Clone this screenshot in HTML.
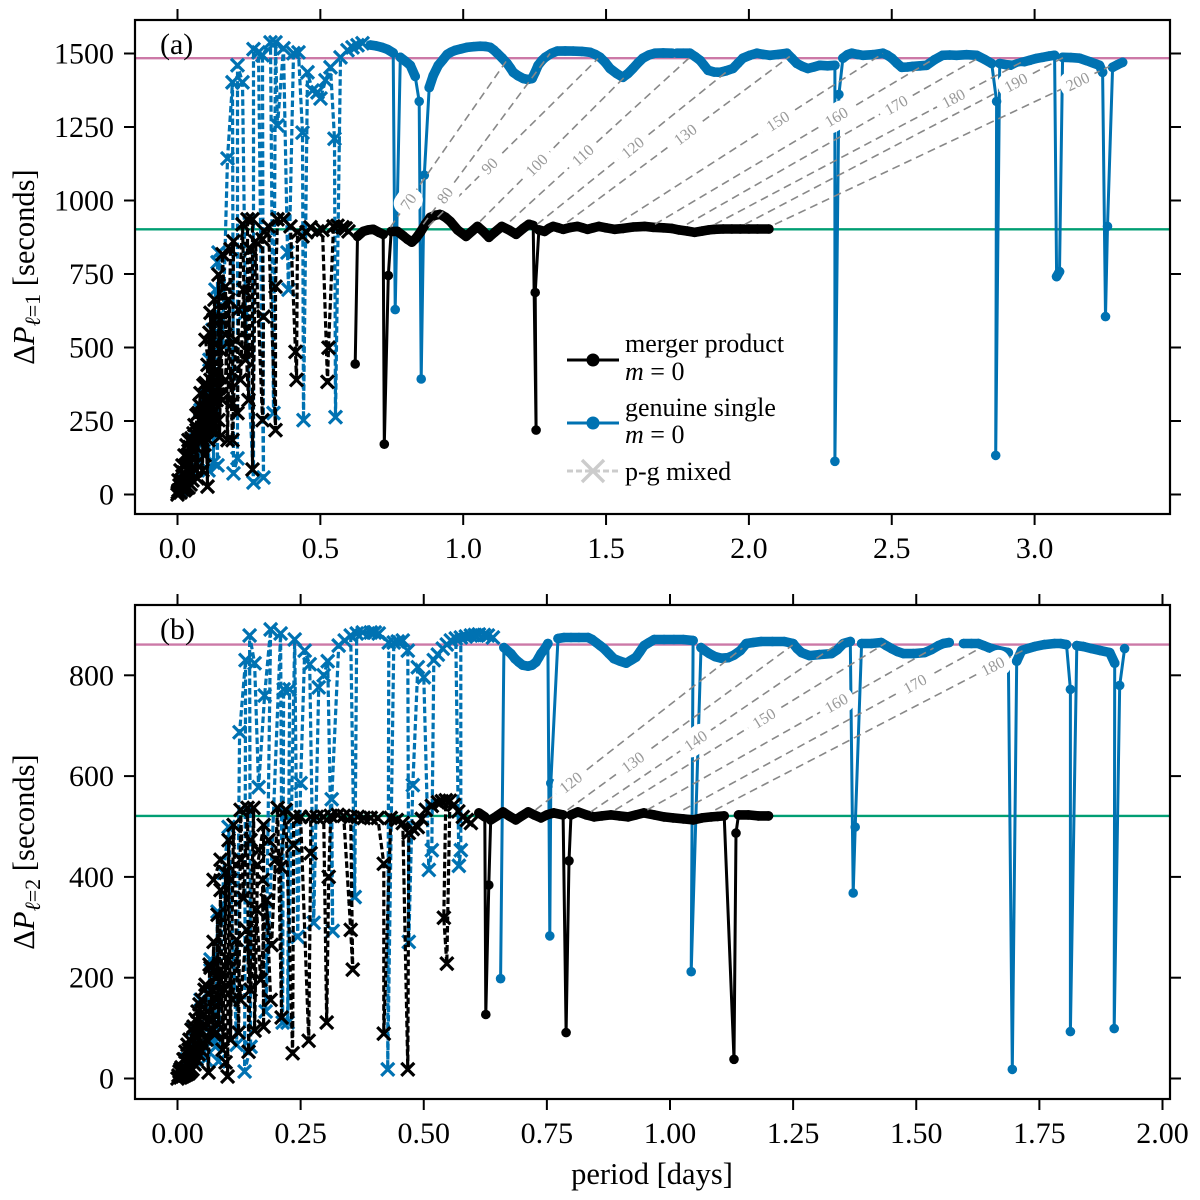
<!DOCTYPE html>
<html lang="en">
<head>
<meta charset="utf-8">
<title>Period spacing vs period</title>
<style>
html,body{margin:0;padding:0;background:#fff;}
svg{display:block;}
text{font-family:"Liberation Serif","DejaVu Serif",serif;fill:#000;}
</style>
</head>
<body>
<svg id="chart" xmlns="http://www.w3.org/2000/svg" width="1200" height="1200" viewBox="0 0 1200 1200">
<rect x="0" y="0" width="1200" height="1200" fill="#fff"/>
<g id="panel-a"></g>
<g id="panel-b"></g>

<text x="160" y="54" font-size="30">(a)</text>
<text x="160" y="639" font-size="30">(b)</text>

<text transform="translate(34,267) rotate(-90)" text-anchor="middle" font-size="30.5">Δ<tspan font-style="italic">P</tspan><tspan font-size="22" dy="6"><tspan font-style="italic">ℓ</tspan>=1</tspan><tspan dy="-6"> [seconds]</tspan></text>
<text transform="translate(34,852) rotate(-90)" text-anchor="middle" font-size="30.5">Δ<tspan font-style="italic">P</tspan><tspan font-size="22" dy="6"><tspan font-style="italic">ℓ</tspan>=2</tspan><tspan dy="-6"> [seconds]</tspan></text>
<text x="652" y="1184" text-anchor="middle" font-size="30.5">period [days]</text>

<g id="legend">
  <g>
    <line x1="567" x2="619" y1="360" y2="360" stroke="#000" stroke-width="3"/>
    <circle cx="593" cy="360" r="6.5" fill="#000"/>
    <text x="625" y="352" font-size="26">merger product</text>
    <text x="625" y="380" font-size="26"><tspan font-style="italic">m</tspan> = 0</text>
  </g>
  <g>
    <line x1="567" x2="619" y1="423" y2="423" stroke="#0072B2" stroke-width="3"/>
    <circle cx="593" cy="423" r="6.5" fill="#0072B2"/>
    <text x="625" y="416" font-size="26">genuine single</text>
    <text x="625" y="443" font-size="26"><tspan font-style="italic">m</tspan> = 0</text>
  </g>
  <g>
    <line x1="567" x2="619" y1="471" y2="471" stroke="#ccc" stroke-width="3" stroke-dasharray="6 3"/>
    <path d="M582 460L604 482M582 482L604 460" stroke="#ccc" stroke-width="3.4" fill="none"/>
    <text x="625" y="480" font-size="26">p-g mixed</text>
  </g>
</g>
</svg>

<script>
// ---------- Panel (a): l = 1 ----------
const aXTicks = [0, 0.5, 1, 1.5, 2, 2.5, 3];
const aXTickLabels = ["0.0", "0.5", "1.0", "1.5", "2.0", "2.5", "3.0"];
const aYTicks = [0, 250, 500, 750, 1000, 1250, 1500];
const aYTickLabels = ["0", "250", "500", "750", "1000", "1250", "1500"];
const aAsymptoteSingle = 1484;
const aAsymptoteMerger = 902;

const aBlueMixedP = [.0105,.028,.0455,.063,.0735,.0805,.091,.1015,.1085,.112,.1225,.126,.133,.14,.14,.1435,.1575,.175,.1925,.196,.21,.21,.2275,.238,.266,.266,.2835,.301,.2975,.3255,.336,.343,.35,.371,.385,.3885,.406,.4235,.4375,.441,.455,.4725,.49,.5005,.518,.5355,.5495,.553,.5705,.595,.6125,.63,.6475];
const aBlueMixedV = [14,48,82,185,116,287,185,338,82,458,560,109,697,99,790,823,509,1143,1402,72,123,1460,1402,618,41,1515,1504,58,1494,1538,277,1538,1255,1518,823,697,1501,1504,1231,253,1436,1374,1368,1347,1409,1453,1210,263,1487,1511,1521,1528,1535];

const aBlueSolidP = [.675,.695,.715,.735,.755,.762,.78,.797,.815,.832,.846,.853,.864,.881,.895,.913,.93,.944,.958,.972,.993,1.014,1.036,1.059,1.077,1.094,1.107,1.119,1.137,1.154,1.165,1.175,1.192,1.21,1.225,1.241,1.252,1.262,1.275,1.287,1.308,1.329,1.357,1.385,1.415,1.444,1.462,1.479,1.497,1.514,1.537,1.559,1.577,1.594,1.612,1.629,1.65,1.671,1.7,1.731,null,1.748,1.77,1.794,1.812,1.829,1.843,1.857,1.878,1.899,1.92,1.944,1.962,1.979,2.003,2.028,2.05,2.073,2.103,2.133,2.15,2.168,2.187,2.206,2.227,2.248,2.275,2.301,2.301,2.315,2.329,2.345,2.36,2.38,2.399,2.434,2.469,2.485,2.5,2.518,2.535,2.555,2.573,2.6,2.622,2.65,2.678,2.703,2.727,2.762,2.797,2.825,2.85,2.867,2.864,2.878,2.9,2.923,2.953,2.983,3.005,3.028,3.05,3.07,3.077,3.087,3.098,3.127,3.157,3.192,3.227,3.238,3.248,3.255,3.273,3.29,3.308];
const aBlueSolidV = [1529,1526,1521,1514,1502,629,1487,1474,1460,1422,1337,393,1086,1384,1425,1460,1480,1497,1505,1511,1516,1521,1523,1525,1524,1521,1512,1501,1484,1466,1451,1436,1424,1415,1412,1415,1437,1460,1476,1487,1500,1508,1509,1508,1507,1504,1497,1487,1470,1449,1432,1419,1432,1449,1468,1484,1495,1501,1502,1501,null,1501,1501,1501,1489,1477,1460,1443,1437,1436,1441,1449,1467,1484,1494,1501,1497,1494,1497,1501,1484,1466,1456,1449,1454,1460,1458,1460,113,1361,1484,1496,1501,1497,1494,1496,1501,1494,1484,1467,1453,1454,1456,1458,1460,1479,1494,1495,1494,1496,1494,1480,1466,1337,133,1466,1462,1460,1469,1477,1483,1487,1491,1494,741,758,1487,1486,1484,1472,1460,1436,605,912,1453,1462,1470];

const aBlackMixedP = [.001,.0035,.0105,.0175,.0245,.0315,.0385,.0455,.0525,.0595,.0665,.0735,.0805,.0875,.0945,.1015,.1085,.1155,.1225,.1295,.1365,.1435,.1505,null,.098,.1155,.126,.133,.1505,.1575,.168,.1785,.1925,.203,.2205,.231,.2485,.2555,null,0,.0035,.007,.0105,.014,.0175,.021,.0245,.028,.0315,.035,.0385,.042,.0455,.049,.0525,.056,.0595,.063,.0665,.07,.0735,.077,.0805,.0875,.091,.0945,.098,.105,.105,.1085,.112,.1155,.1155,.1225,.1295,.1365,.1435,.1435,.147,.1575,.168,.168,.175,.1855,.196,.1925,.21,.2135,.2275,.238,.245,.245,.2625,.2625,.273,.2975,.301,.2975,.3045,.3185,.343,.343,.35,.371,.3955,.413,.4165,.42,.4375,.4515,.4655,.49,.5075,.525,.5285,.546,.56,.5775,.5885,.5985];
const aBlackMixedV = [7,48,82,99,133,167,185,133,185,167,219,185,253,185,253,219,321,253,321,219,424,253,492,null,526,390,595,219,595,321,390,663,185,526,390,697,321,834,null,0,14,31,7,48,17,75,14,99,21,133,24,161,34,191,48,208,236,82,270,55,277,304,345,82,372,133,379,27,441,185,550,219,618,253,663,321,362,748,195,817,543,707,185,834,861,311,277,629,919,458,485,936,936,85,861,253,605,868,895,912,219,707,936,936,912,485,390,892,878,892,909,895,900,383,499,912,914,909,905,895];

const aBlackSolidP = [.622,.63,.65,.668,.685,.705,.72,.724,.738,.748,.77,.79,.805,.82,.835,.85,.868,.885,.903,.92,.938,.955,.98,1.01,1.03,1.05,1.07,1.09,1.11,1.135,1.16,1.185,1.21,1.23,1.245,1.255,1.252,1.265,1.285,1.3,1.315,1.333,1.35,1.375,1.4,1.418,1.435,1.455,1.475,1.5,1.53,1.56,1.595,1.635,1.665,1.7,1.73,1.755,1.785,1.81,1.835,1.86,1.88,1.91,1.94,1.97,2,2.03,2.07];
const aBlackSolidV = [444,878,895,900,902,892,885,171,745,895,895,880,868,858,872,892,920,943,950,953,943,929,900,878,895,912,895,875,892,912,900,885,905,919,915,219,687,900,895,905,912,907,902,908,912,907,902,907,912,907,902,905,910,912,909,907,905,900,896,892,896,900,902,903,903,903,903,903,903];

const aIsoOrders = [70, 80, 90, 100, 110, 120, 130, 150, 160, 170, 180, 190, 200];
const aIsoMergerP = [.745,.86,.878,1.059,1.164,1.259,1.364,1.549,1.671,1.783,1.881,1.986,2.091];
const aIsoMergerV = [909,919,912,929,929,919,926,926,919,919,919,919,919];
const aIsoSingleP = [1.15,1.304,1.472,1.566,1.8,1.927,2.143,2.469,2.633,2.8,2.965,3.108,3.262];
const aIsoSingleV = [1473,1500,1483,1421,1493,1442,1490,1500,1473,1483,1476,1490,1456];
const aIsoLabelAt = [.155,.17,.36,.39,.40,.50,.53,.60,.66,.72,.77,.845,.905];

// ---------- Panel (b): l = 2 ----------
const bXTicks = [0, 0.25, 0.5, 0.75, 1, 1.25, 1.5, 1.75, 2];
const bXTickLabels = ["0.00", "0.25", "0.50", "0.75", "1.00", "1.25", "1.50", "1.75", "2.00"];
const bYTicks = [0, 200, 400, 600, 800];
const bYTickLabels = ["0", "200", "400", "600", "800"];
const bAsymptoteSingle = 861;
const bAsymptoteMerger = 521;

const bBlueMixedP = [.0061,.0183,.0305,.0386,.0468,.0569,.0671,.0732,.0773,.0813,.0834,.0935,.1037,.12,.126,.1382,.1362,.1484,.1464,.1565,.1647,.1769,.1891,.1789,.2094,.2135,.2155,.2277,.2236,.2379,.244,.25,.2582,.2684,.2765,.2867,.2968,.305,.3151,.3131,.3273,.3395,.3517,.3598,.3639,.3761,.3924,.4005,.4086,.429,.4269,.4391,.4472,.4574,.4676,.4696,.4778,.4879,.5001,.5103,.5164,.5204,.5286,.5387,.5468,.555,.565,.5713,.5753,.5753,.5855,.5957,.6038,.6119,.6221,.6302,.6404];
const bBlueMixedV = [18,38,97,57,156,38,236,77,63,331,34,408,499,67,687,830,14,63,879,824,578,760,891,133,883,111,772,772,111,871,281,586,849,822,309,776,800,828,293,554,859,869,879,360,883,885,885,885,883,865,18,865,867,869,849,271,582,816,796,414,453,830,841,853,861,869,873,422,453,875,877,879,880,881,880,879,875];

const bBlueSolidP = [.656,.6628,.677,.685,.693,.701,.7116,.72,.728,.734,.738,.746,.752,.756,.758,.7725,.785,.799,.815,.8335,.842,.85,.858,.866,.876,.886,.8986,.911,.921,.931,.939,.9474,.9575,.968,.988,1.008,1.027,1.047,1.043,1.063,1.071,1.08,1.092,1.104,1.118,1.13,1.143,1.155,1.169,1.185,1.208,1.232,1.25,1.258,1.267,1.283,1.303,1.328,1.34,1.352,1.366,1.372,1.376,1.389,1.409,1.429,1.439,1.45,1.462,1.474,1.494,1.517,1.531,1.545,1.555,1.567,null,1.596,1.612,1.626,1.637,1.647,1.667,1.687,1.695,1.704,1.714,1.726,1.74,1.76,1.781,1.793,1.805,1.813,1.813,1.826,1.84,1.856,1.874,1.893,1.903,1.902,1.913,1.923];
const bBlueSolidV = [198,855,843,833,826,820,818,820,826,836,843,853,863,283,586,873,875,875,875,875,871,865,859,853,843,833,828,824,830,836,847,859,865,871,871,871,871,869,212,855,849,843,837,834,835,840,849,863,865,867,867,867,863,853,845,839,841,843,851,863,867,368,499,863,863,865,859,853,847,843,843,845,851,859,863,865,null,863,863,863,859,855,849,845,18,828,849,853,857,861,863,863,861,772,93,859,857,853,849,845,824,99,780,853];

const bBlackMixedP = [.0061,.0142,.0224,.0305,.0386,.0468,.0549,.063,.0712,.0793,.0874,.0956,.1037,.1118,.12,.1281,.1403,.1484,.1606,.1687,.1809,.1891,null,.0732,.0874,.1077,.1281,.1484,.1647,.185,.1992,null,0,.002,.0041,.0061,.0081,.0102,.0122,.0142,.0163,.0183,.0203,.0224,.0244,.0264,.0285,.0305,.0325,.0346,.0366,.0386,.0407,.0427,.0447,.0468,.0488,.0529,.0549,.0569,.059,.063,.0651,.0671,.0712,.0732,.0752,.0793,.0813,.0834,.0874,.0915,.0976,.0976,.1017,.1037,.1077,.1138,.124,.1281,.1342,.1423,.1443,.1545,.1565,.1626,.1748,.1748,.1728,.1911,.2033,.2114,.2094,.2196,.2338,.2358,.2358,.25,.2663,.2704,.2704,.2826,.2968,.3029,.307,.311,.3253,.3375,.3517,.3558,.3517,.366,.3781,.3924,.4066,.4188,.4188,.433,.4452,.4574,.4676,.4696,.4778,.4879,.496,.5042,.5164,.5286,.5367,.5448,.5408,.5469,.553,.5611,.5702,.5794,.5875,.5957];
const bBlackMixedV = [18,38,57,48,97,97,127,117,176,156,216,176,236,156,275,156,295,176,335,196,354,156,null,394,434,394,434,473,453,473,434,null,0,6,14,2,22,4,38,6,53,8,67,10,77,14,97,18,103,28,117,38,133,48,147,57,156,67,176,186,77,12,226,220,97,271,87,91,325,107,374,57,408,32,4,473,77,503,91,533,358,537,53,537,95,424,503,103,394,265,537,121,420,533,50,463,519,519,75,447,519,519,519,111,400,521,523,521,295,216,519,519,517,517,517,426,89,517,513,507,18,487,495,499,515,533,541,548,550,552,319,228,551,543,530,519,513,507];

const bBlackSolidP = [.612,.624,.626,.632,.636,.649,.661,.673,.687,.699,.712,.724,.738,.75,.764,.783,.789,.795,.799,.813,.83,.846,.862,.88,.897,.915,.931,.947,.968,.988,1.006,1.027,1.047,1.065,1.084,1.097,1.11,1.13,1.134,1.139,1.159,1.179,1.2];
const bBlackSolidV = [527,519,127,384,513,521,529,521,513,521,529,523,517,523,527,523,91,432,523,529,523,519,521,523,521,519,523,527,523,519,517,515,513,517,519,520,521,38,487,523,523,521,521];

const bIsoOrders = [120, 130, 140, 150, 160, 170, 180];
const bIsoMergerP = [.727,.792,.839,.889,.954,1.027,1.092];
const bIsoMergerV = [533,533,529,533,533,533,533];
const bIsoSingleP = [1.147,1.249,1.352,1.438,1.535,1.63,1.718];
const bIsoSingleV = [854,860,870,864,854,854,850];
const bIsoLabelAt = [.17,.29,.415,.55,.66,.78,.9];

// ---------- drawing ----------
const NS = 'http://www.w3.org/2000/svg';
const BLUE = '#0072B2', BLACK = '#000000', PINK = '#CC79A7', GREEN = '#009E73', ISO = '#888888';
const MARKER_RADIUS = 4.8;
const BAND_GAP = 13;

function node(tag, parent) {
  const el = document.createElementNS(NS, tag);
  parent.appendChild(el);
  return el;
}

function drawFrame(parent, box, sx, sy, xTicks, xLabels, yTicks, yLabels) {
  const tickLen = 11;
  xTicks.forEach(function (t, i) {
    const x = sx(t);
    [[box.bottom, box.bottom + tickLen], [box.top - tickLen, box.top]].forEach(function (pair) {
      const tick = node('line', parent);
      
      
      tick.setAttribute('x1', x); tick.setAttribute('x2', x);
      tick.setAttribute('y1', pair[0]); tick.setAttribute('y2', pair[1]);
      tick.setAttribute('stroke', '#000'); tick.setAttribute('stroke-width', 2);
    });
    const label = node('text', parent);
    
    
    label.setAttribute('x', x);
    label.setAttribute('y', box.bottom + 44);
    label.setAttribute('text-anchor', 'middle');
    label.setAttribute('font-size', 30);
    label.textContent = xLabels[i];
  });
  yTicks.forEach(function (t, i) {
    const y = sy(t);
    [[box.left - tickLen, box.left], [box.right, box.right + tickLen]].forEach(function (pair) {
      const tick = node('line', parent);
      
      
      tick.setAttribute('y1', y); tick.setAttribute('y2', y);
      tick.setAttribute('x1', pair[0]); tick.setAttribute('x2', pair[1]);
      tick.setAttribute('stroke', '#000'); tick.setAttribute('stroke-width', 2);
    });
    const label = node('text', parent);
    
    
    label.setAttribute('x', box.left - 21);
    label.setAttribute('y', y + 10);
    label.setAttribute('text-anchor', 'end');
    label.setAttribute('font-size', 30);
    label.textContent = yLabels[i];
  });
  const frame = node('rect', parent);
  
  
  frame.setAttribute('x', box.left); frame.setAttribute('y', box.top);
  frame.setAttribute('width', box.right - box.left);
  frame.setAttribute('height', box.bottom - box.top);
  frame.setAttribute('fill', 'none');
  frame.setAttribute('stroke', '#000');
  frame.setAttribute('stroke-width', 2.2);
}

function drawHLine(parent, box, y, color, name) {
  const l = node('line', parent);
  
  
  l.setAttribute('x1', box.left); l.setAttribute('x2', box.right);
  l.setAttribute('y1', y); l.setAttribute('y2', y);
  l.setAttribute('stroke', color); l.setAttribute('stroke-width', 2.4);
}

function linePath(ps, vs, sx, sy) {
  let d = '', pen = false;
  ps.forEach(function (p, i) {
    if (p === null || vs[i] === null) { pen = false; return; }
    d += (pen ? 'L' : 'M') + sx(p).toFixed(1) + ' ' + sy(vs[i]).toFixed(1);
    pen = true;
  });
  return d;
}

// Closely spaced modes merge into one continuous band, as tightly packed markers do.
function bandPath(ps, vs, sx, sy) {
  let d = '';
  for (let i = 1; i < ps.length; i++) {
    if (ps[i] === null || ps[i - 1] === null) continue;
    const x0 = sx(ps[i - 1]), y0 = sy(vs[i - 1]), x1 = sx(ps[i]), y1 = sy(vs[i]);
    if (Math.hypot(x1 - x0, y1 - y0) < BAND_GAP) {
      d += 'M' + x0.toFixed(1) + ' ' + y0.toFixed(1) + 'L' + x1.toFixed(1) + ' ' + y1.toFixed(1);
    }
  }
  return d;
}

function drawMixed(parent, ps, vs, sx, sy, color, name) {
  const g = node('g', parent);
  
  
  const line = node('path', g);
  
  
  line.setAttribute('d', linePath(ps, vs, sx, sy));
  line.setAttribute('fill', 'none');
  line.setAttribute('stroke', color);
  line.setAttribute('stroke-width', 3.2);
  line.setAttribute('stroke-dasharray', '6.5 3');
  ps.forEach(function (p, i) {
    if (p === null || vs[i] === null) return;
    const x = sx(p), y = sy(vs[i]), h = 6.5;
    const m = node('path', g);
    
    
    m.setAttribute('d', 'M' + (x - h) + ' ' + (y - h) + 'L' + (x + h) + ' ' + (y + h) + 'M' + (x - h) + ' ' + (y + h) + 'L' + (x + h) + ' ' + (y - h));
    m.setAttribute('stroke', color);
    m.setAttribute('stroke-width', 3.2);
    m.setAttribute('fill', 'none');
  });
}

function drawSolid(parent, ps, vs, sx, sy, color, name) {
  const g = node('g', parent);
  
  
  const line = node('path', g);
  
  
  line.setAttribute('d', linePath(ps, vs, sx, sy));
  line.setAttribute('fill', 'none');
  line.setAttribute('stroke', color);
  line.setAttribute('stroke-width', 3);
  line.setAttribute('stroke-linejoin', 'round');
  const band = node('path', g);
  
  
  band.setAttribute('d', bandPath(ps, vs, sx, sy));
  band.setAttribute('fill', 'none');
  band.setAttribute('stroke', color);
  band.setAttribute('stroke-width', MARKER_RADIUS * 2);
  band.setAttribute('stroke-linecap', 'round');
  ps.forEach(function (p, i) {
    if (p === null || vs[i] === null) return;
    const c = node('circle', g);
    
    
    c.setAttribute('cx', sx(p).toFixed(1));
    c.setAttribute('cy', sy(vs[i]).toFixed(1));
    c.setAttribute('r', MARKER_RADIUS);
    c.setAttribute('fill', color);
  });
}

function drawIso(parent, orders, p0, v0, p1, v1, at, sx, sy) {
  const geom = orders.map(function (o, i) {
    return { o: o, x0: sx(p0[i]), y0: sy(v0[i]), x1: sx(p1[i]), y1: sy(v1[i]), f: at[i] };
  });
  geom.forEach(function (k) {
    const l = node('line', parent);
    
    
    l.setAttribute('x1', k.x0); l.setAttribute('y1', k.y0);
    l.setAttribute('x2', k.x1); l.setAttribute('y2', k.y1);
    l.setAttribute('stroke', ISO);
    l.setAttribute('stroke-width', 1.6);
    l.setAttribute('stroke-dasharray', '8 5');
  });
  geom.forEach(function (k) {
    const cx = k.x0 + (k.x1 - k.x0) * k.f, cy = k.y0 + (k.y1 - k.y0) * k.f;
    const ang = Math.atan2(k.y1 - k.y0, k.x1 - k.x0) * 180 / Math.PI;
    const g = node('g', parent);
    
    
    g.setAttribute('transform', 'translate(' + cx.toFixed(1) + ' ' + cy.toFixed(1) + ') rotate(' + ang.toFixed(1) + ')');
    const w = String(k.o).length * 8 + 13;
    const r = node('rect', g);
    
    
    r.setAttribute('x', -w / 2); r.setAttribute('y', -13);
    r.setAttribute('width', w); r.setAttribute('height', 26);
    r.setAttribute('rx', 11); r.setAttribute('fill', '#fff');
    const t = node('text', g);
    
    
    t.setAttribute('text-anchor', 'middle');
    t.setAttribute('y', 5.5);
    t.setAttribute('font-size', 16);
    t.style.fill = '#999';
    t.textContent = k.o;
  });
}

// Panel (a) axis functions
const boxA = { left: 135, right: 1170, top: 20, bottom: 514 };
function xA(p) { return 177.5 + 285.7 * p; }
function yA(v) { return 494.5 - 0.294 * v; }
const panelA = document.getElementById('panel-a');
drawHLine(panelA, boxA, yA(aAsymptoteSingle), PINK, 'asymptote-single-a');
drawHLine(panelA, boxA, yA(aAsymptoteMerger), GREEN, 'asymptote-merger-a');
drawMixed(panelA, aBlueMixedP, aBlueMixedV, xA, yA, BLUE, 'single-mixed-a');
drawSolid(panelA, aBlueSolidP, aBlueSolidV, xA, yA, BLUE, 'single-g-a');
drawMixed(panelA, aBlackMixedP, aBlackMixedV, xA, yA, BLACK, 'merger-mixed-a');
drawSolid(panelA, aBlackSolidP, aBlackSolidV, xA, yA, BLACK, 'merger-g-a');
drawIso(panelA, aIsoOrders, aIsoMergerP, aIsoMergerV, aIsoSingleP, aIsoSingleV, aIsoLabelAt, xA, yA);
drawFrame(panelA, boxA, xA, yA, aXTicks, aXTickLabels, aYTicks, aYTickLabels);

// Panel (b) axis functions
const boxB = { left: 135, right: 1170, top: 605, bottom: 1099 };
function xB(p) { return 177.5 + 492.5 * p; }
function yB(v) { return 1078.5 - 0.504 * v; }
const panelB = document.getElementById('panel-b');
drawHLine(panelB, boxB, yB(bAsymptoteSingle), PINK, 'asymptote-single-b');
drawHLine(panelB, boxB, yB(bAsymptoteMerger), GREEN, 'asymptote-merger-b');
drawMixed(panelB, bBlueMixedP, bBlueMixedV, xB, yB, BLUE, 'single-mixed-b');
drawSolid(panelB, bBlueSolidP, bBlueSolidV, xB, yB, BLUE, 'single-g-b');
drawMixed(panelB, bBlackMixedP, bBlackMixedV, xB, yB, BLACK, 'merger-mixed-b');
drawSolid(panelB, bBlackSolidP, bBlackSolidV, xB, yB, BLACK, 'merger-g-b');
drawIso(panelB, bIsoOrders, bIsoMergerP, bIsoMergerV, bIsoSingleP, bIsoSingleV, bIsoLabelAt, xB, yB);
drawFrame(panelB, boxB, xB, yB, bXTicks, bXTickLabels, bYTicks, bYTickLabels);
</script>
</body>
</html>
